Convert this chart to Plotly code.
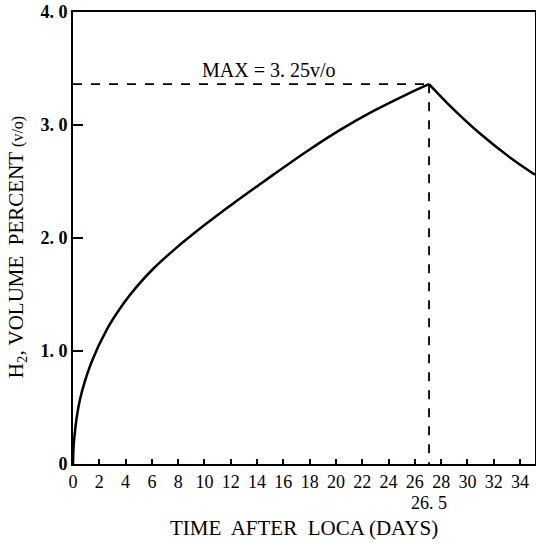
import plotly.graph_objects as go

# Rising part of H2 concentration curve (days, volume percent)
rise_days = [0, 0.08, 0.53, 1.42, 2.57, 3.84, 4.85, 6.12, 7.9, 9.93, 11.46, 12.7, 15.27, 17.8, 20.35, 22.9, 25.4, 27.08]
rise_h2 = [0, 0.21, 0.57, 0.905, 1.19, 1.42, 1.57, 1.73, 1.917, 2.108, 2.243, 2.35, 2.563, 2.768, 2.959, 3.127, 3.272, 3.361]
# Decay part after the maximum
decay_days = [27.08, 28.5, 31.0, 33.5, 35.14]
decay_h2 = [3.361, 3.19, 2.92, 2.69, 2.56]

peak_day = rise_days[-1]
peak_val = rise_h2[-1]

x_ticks = list(range(0, 35, 2))
x_ticklabels = [str(v) for v in x_ticks]
y_ticks = [0, 1, 2, 3, 4]
y_ticklabels = ["<b>0</b>", "<b>1. 0</b>", "<b>2. 0</b>", "<b>3. 0</b>", "<b>4. 0</b>"]

max_label = "MAX = 3. 25v/o"
peak_label = "26. 5"
x_title = "TIME  AFTER  LOCA (DAYS)"
y_title = "H<sub>2</sub>, VOLUME  PERCENT <span style='font-size:16px'>(v/o)</span>"

FONT = "Liberation Serif"

fig = go.Figure()
fig.add_trace(go.Scatter(x=[0, peak_day], y=[peak_val, peak_val], mode="lines",
                         line=dict(color="black", width=1.8, dash="dash"), hoverinfo="skip"))
fig.add_trace(go.Scatter(x=[peak_day, peak_day], y=[peak_val, 0], mode="lines",
                         line=dict(color="black", width=1.8, dash="dash"), hoverinfo="skip"))
fig.add_trace(go.Scatter(x=rise_days, y=rise_h2, mode="lines", line_shape="spline",
                         line=dict(color="black", width=2.5, smoothing=0.8)))
fig.add_trace(go.Scatter(x=decay_days, y=decay_h2, mode="lines", line_shape="spline",
                         line=dict(color="black", width=2.5)))

fig.update_layout(
    width=536, height=543,
    margin=dict(l=73, r=1, t=12, b=79, autoexpand=False),
    paper_bgcolor="white", plot_bgcolor="white",
    showlegend=False,
    font=dict(family=FONT, color="black", size=18),
    xaxis=dict(range=[0, 35.14], tickvals=x_ticks, ticktext=x_ticklabels,
               ticks="inside", ticklen=5, tickwidth=2, tickcolor="black",
               showline=True, linecolor="black", linewidth=2, mirror=True,
               showgrid=False, zeroline=False, automargin=False,
               ticklabeloverflow="allow",
               tickfont=dict(family=FONT, size=18, color="black")),
    yaxis=dict(range=[0, 4], tickvals=y_ticks, ticktext=y_ticklabels,
               ticks="inside", ticklen=10, tickwidth=2, tickcolor="black",
               showline=True, linecolor="black", linewidth=2, mirror=True,
               showgrid=False, zeroline=False, automargin=False,
               ticklabeloverflow="allow",
               tickfont=dict(family=FONT, size=18, color="black")),
    annotations=[
        dict(x=14.9, y=3.485, xref="x", yref="y", text=max_label, showarrow=False,
             xanchor="center", yanchor="middle", font=dict(family=FONT, size=20)),
        dict(x=peak_day, y=-0.086, xref="x", yref="paper", text=peak_label, showarrow=False,
             xanchor="center", yanchor="middle", font=dict(family=FONT, size=18)),
        dict(x=0.5, y=-0.142, xref="paper", yref="paper", text=x_title, showarrow=False,
             xanchor="center", yanchor="middle", font=dict(family=FONT, size=21)),
        dict(x=-0.121, y=0.48, xref="paper", yref="paper", text=y_title, showarrow=False,
             xanchor="center", yanchor="middle", textangle=-90,
             font=dict(family=FONT, size=21)),
    ],
)

fig.write_html(
    "out.html",
    config={"displayModeBar": False},
    post_script="document.body.style.margin='0';document.body.style.overflow='hidden';",
)
